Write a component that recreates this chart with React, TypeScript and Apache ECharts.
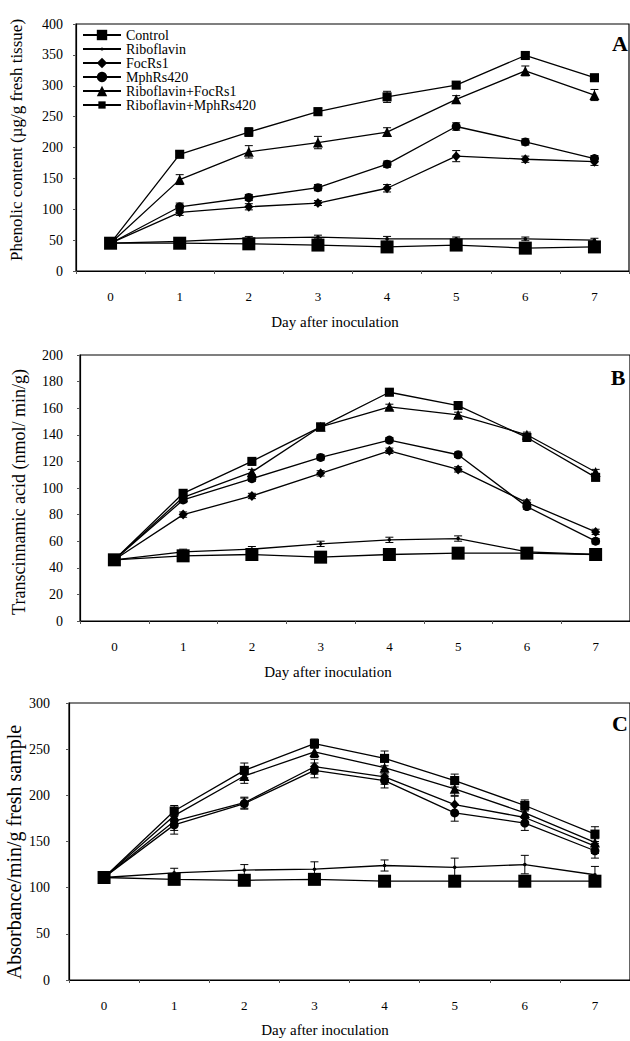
import React, { useEffect, useRef } from "react";
import * as echarts from "echarts";

const days = ["0", "1", "2", "3", "4", "5", "6", "7"];
const seriesNames = ["Control", "Riboflavin", "FocRs1", "MphRs420", "Riboflavin+FocRs1", "Riboflavin+MphRs420"];

// Panel A – Phenolic content
const phenolControl = [45, 45, 44, 42, 39, 42, 37, 39];
const phenolRiboflavin = [45, 48, 53, 55, 52, 52, 52, 50];
const phenolFocRs1 = [45, 95, 104, 110, 134, 186, 181, 177];
const phenolMphRs420 = [45, 104, 119, 135, 173, 234, 209, 182];
const phenolRibFoc = [45, 148, 193, 208, 225, 278, 324, 285];
const phenolRibMph = [45, 189, 225, 258, 282, 301, 349, 313];
const phenolErrControl = [3, 3, 3, 3, 3, 3, 3, 3];
const phenolErrRiboflavin = [2, 2, 3, 3, 4, 3, 3, 3];
const phenolErrFocRs1 = [2, 5, 5, 4, 6, 9, 5, 6];
const phenolErrMphRs420 = [2, 6, 5, 5, 5, 6, 5, 5];
const phenolErrRibFoc = [2, 8, 10, 10, 7, 6, 8, 9];
const phenolErrRibMph = [2, 5, 7, 6, 9, 5, 5, 5];

// Panel B – Transcinnamic acid
const tcaControl = [46, 49, 50, 48, 50, 51, 51, 50];
const tcaRiboflavin = [46, 52, 54, 58, 61, 62, 52, 50];
const tcaFocRs1 = [46, 80, 94, 111, 128, 114, 89, 67];
const tcaMphRs420 = [46, 91, 107, 123, 136, 125, 86, 60];
const tcaRibFoc = [46, 93, 112, 146, 161, 155, 140, 112];
const tcaRibMph = [46, 96, 120, 146, 172, 162, 138, 108];
const tcaErr = [1, 2, 2, 2, 2, 2, 2, 2];

// Panel C – Absorbance
const absControl = [111, 109, 108, 109, 107, 107, 107, 107];
const absRiboflavin = [111, 116, 119, 120, 124, 122, 125, 114];
const absFocRs1 = [111, 172, 192, 231, 220, 190, 176, 145];
const absMphRs420 = [111, 168, 191, 227, 216, 181, 170, 140];
const absRibFoc = [111, 178, 221, 247, 230, 207, 181, 149];
const absRibMph = [111, 183, 227, 256, 240, 216, 189, 158];
const absErrControl = [3, 4, 4, 4, 4, 4, 4, 4];
const absErrRiboflavin = [3, 5, 6, 8, 6, 10, 10, 9];
const absErrFocRs1 = [3, 10, 6, 8, 8, 9, 8, 8];
const absErrMphRs420 = [3, 10, 6, 8, 8, 9, 8, 8];
const absErrRibFoc = [3, 8, 8, 6, 8, 7, 6, 8];
const absErrRibMph = [3, 6, 8, 5, 8, 7, 6, 8];

const FONT = '"Liberation Serif", "DejaVu Serif", serif';
const SMALL_DOT = "path://M0,0M10,10M3.5,5a1.5,1.5 0 1,0 3,0a1.5,1.5 0 1,0 -3,0z";
const SMALL_SQUARE = "path://M0,0M10,10M1.5,1.5L8.5,1.5L8.5,8.5L1.5,8.5Z";

const symbolDefs: any[] = [
  { symbol: "rect", symbolSize: 13 },
  { symbol: SMALL_DOT, symbolSize: 12 },
  { symbol: "diamond", symbolSize: [9, 10] },
  { symbol: "circle", symbolSize: 9 },
  { symbol: "triangle", symbolSize: 10 },
  { symbol: SMALL_SQUARE, symbolSize: 13 },
];

function lineSeries(idx: number, vals: number[], axis: number) {
  return {
    type: "line",
    name: seriesNames[idx],
    xAxisIndex: axis,
    yAxisIndex: axis,
    data: vals,
    symbol: symbolDefs[idx].symbol,
    symbolSize: symbolDefs[idx].symbolSize,
    showAllSymbol: true,
    lineStyle: { color: "#000", width: 1.3 },
    itemStyle: { color: "#000", borderWidth: 0 },
    z: 3,
  };
}

function errorSeries(vals: number[], errs: number[], axis: number) {
  return {
    type: "custom",
    name: "err",
    xAxisIndex: axis,
    yAxisIndex: axis,
    silent: true,
    z: 2,
    data: vals.map((v, i) => [i, v - errs[i], v + errs[i]]),
    encode: { x: 0, y: [1, 2] },
    renderItem: (params: any, api: any) => {
      const x = api.value(0);
      const hi = api.coord([x, api.value(2)]);
      const lo = api.coord([x, api.value(1)]);
      const w = 4;
      const style = { stroke: "#000", lineWidth: 1 };
      return {
        type: "group",
        children: [
          { type: "line", shape: { x1: hi[0], y1: hi[1], x2: lo[0], y2: lo[1] }, style },
          { type: "line", shape: { x1: hi[0] - w, y1: hi[1], x2: hi[0] + w, y2: hi[1] }, style },
          { type: "line", shape: { x1: lo[0] - w, y1: lo[1], x2: lo[0] + w, y2: lo[1] }, style },
        ],
      };
    },
  };
}

function xAxisDef(gridIndex: number) {
  return {
    type: "category",
    gridIndex,
    data: days,
    boundaryGap: true,
    axisLine: { show: true, lineStyle: { color: "#000", width: 1.2 } },
    axisTick: { show: true, length: 3, lineStyle: { color: "#555" } },
    axisLabel: { color: "#000", fontFamily: FONT, fontSize: 13, margin: 19 },
    splitLine: { show: false },
  };
}

function yAxisDef(gridIndex: number, max: number, interval: number, margin: number) {
  return {
    type: "value",
    gridIndex,
    min: 0,
    max,
    interval,
    axisLine: { show: true, lineStyle: { color: "#000", width: 1.2 } },
    axisTick: { show: true, length: 3, lineStyle: { color: "#555" } },
    axisLabel: { color: "#000", fontFamily: FONT, fontSize: 14, margin },
    splitLine: { show: false },
  };
}

function txt(text: string, x: number, y: number, size: number, rotate = 0, bold = false) {
  return {
    type: "text",
    x,
    y,
    rotation: rotate,
    style: {
      text,
      font: `${bold ? "bold " : ""}${size}px ${FONT}`,
      fill: "#000",
      align: "center",
      verticalAlign: "middle",
      textAlign: "center",
      textVerticalAlign: "middle",
    },
  };
}

export default function App() {
  const ref = useRef<HTMLDivElement>(null);
  useEffect(() => {
    if (!ref.current) return;
    const chart = echarts.init(ref.current, undefined, { renderer: "svg" });
    const gridStyle = { show: true, borderColor: "#000", borderWidth: 1.2, backgroundColor: "transparent" };
    const panelA = [phenolControl, phenolRiboflavin, phenolFocRs1, phenolMphRs420, phenolRibFoc, phenolRibMph];
    const errA = [phenolErrControl, phenolErrRiboflavin, phenolErrFocRs1, phenolErrMphRs420, phenolErrRibFoc, phenolErrRibMph];
    const panelB = [tcaControl, tcaRiboflavin, tcaFocRs1, tcaMphRs420, tcaRibFoc, tcaRibMph];
    const panelC = [absControl, absRiboflavin, absFocRs1, absMphRs420, absRibFoc, absRibMph];
    const errC = [absErrControl, absErrRiboflavin, absErrFocRs1, absErrMphRs420, absErrRibFoc, absErrRibMph];
    const series: any[] = [];
    panelA.forEach((v, i) => series.push(errorSeries(v, errA[i], 0)));
    panelB.forEach((v) => series.push(errorSeries(v, tcaErr, 1)));
    panelC.forEach((v, i) => series.push(errorSeries(v, errC[i], 2)));
    panelA.forEach((v, i) => series.push(lineSeries(i, v, 0)));
    panelB.forEach((v, i) => series.push(lineSeries(i, v, 1)));
    panelC.forEach((v, i) => series.push(lineSeries(i, v, 2)));

    chart.setOption({
      animation: false,
      backgroundColor: "#fff",
      grid: [
        { left: 76, top: 24, right: 1, height: 247, ...gridStyle },
        { left: 80, top: 355, right: -2, height: 266, ...gridStyle },
        { left: 69, top: 703, right: -2, height: 277, ...gridStyle },
      ],
      xAxis: [xAxisDef(0), xAxisDef(1), xAxisDef(2)],
      yAxis: [yAxisDef(0, 400, 50, 13), yAxisDef(1, 200, 20, 17), yAxisDef(2, 300, 50, 19)],
      legend: {
        data: seriesNames,
        orient: "vertical",
        left: 82,
        top: 28,
        padding: 0,
        itemWidth: 38,
        itemHeight: 13,
        itemGap: 0,
        selectedMode: false,
        textStyle: { fontFamily: FONT, fontSize: 14, color: "#000", lineHeight: 13 },
      },
      graphic: [
        txt("A", 620, 43, 22, 0, true),
        txt("B", 618, 377, 22, 0, true),
        txt("C", 620, 723, 22, 0, true),
        txt("Phenolic content (\u00b5g/g fresh tissue)", 16, 140, 17, Math.PI / 2),
        txt("Transcinnamic acid (nmol/ min/g)", 19, 492, 18, Math.PI / 2),
        txt("Absorbance/min/g fresh sample", 14, 852, 20, Math.PI / 2),
        txt("Day after inoculation", 335, 322, 15),
        txt("Day after inoculation", 328, 672, 15),
        txt("Day after inoculation", 325, 1030, 15),
      ],
      series,
    });
    return () => chart.dispose();
  }, []);
  return (
    <div
      ref={ref}
      style={{ position: "absolute", left: 0, top: 0, width: 630, height: 1041, background: "#fff" }}
    />
  );
}
